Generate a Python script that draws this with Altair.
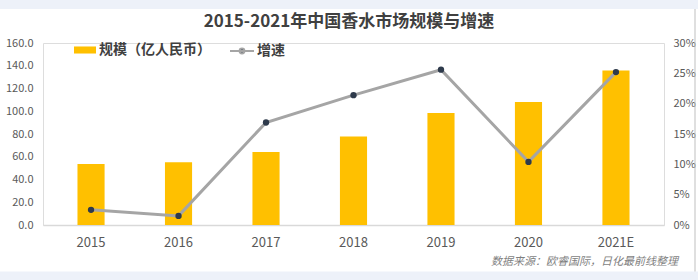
import altair as alt
import pandas as pd

years = ["2015", "2016", "2017", "2018", "2019", "2020", "2021E"]
market_size = [53.6, 55.1, 64.2, 77.8, 98.5, 108.1, 135.8]
growth = [0.025, 0.015, 0.169, 0.214, 0.256, 0.104, 0.252]
title_text = "2015-2021年中国香水市场规模与增速"
source_text = "数据来源：欧睿国际，日化最前线整理"
left_ticks = [0, 20, 40, 60, 80, 100, 120, 140, 160]
right_ticks = [0, 0.05, 0.10, 0.15, 0.20, 0.25, 0.30]

FONT = "Noto Sans CJK SC"
YELLOW = "#FFC000"
GRAY = "#A5A5A5"
DOT = "#2E3A4B"
BAND = "#EDF1F9"

df = pd.DataFrame({"year": years, "size": market_size, "growth": growth})
df["s1"] = "规模（亿人民币）"
df["s2"] = "增速"

x = alt.X("year:N", sort=years, title=None,
          scale=alt.Scale(paddingInner=0.69, paddingOuter=0.394),
          axis=alt.Axis(labelAngle=0, ticks=False, domainColor="#D9D9D9", domainWidth=1.5,
                        labelFont=FONT, labelFontSize=13, labelColor="#595959", labelPadding=11))

bars = alt.Chart(df).mark_bar(color=YELLOW).encode(
    x=x,
    y=alt.Y("size:Q", title=None, scale=alt.Scale(domain=[0, 160], nice=False),
            axis=alt.Axis(values=left_ticks, format=".1f", grid=False, domain=False, ticks=False,
                          labelFont=FONT, labelFontSize=11, labelColor="#595959", labelPadding=10)),
    color=alt.Color("s1:N", title=None, scale=alt.Scale(range=[YELLOW]),
                    legend=alt.Legend(orient="none", legendX=30, legendY=-5,
                                      symbolType="M-1,-0.32L1,-0.32L1,0.32L-1,0.32Z",
                                      symbolSize=484, labelFont=FONT, labelFontSize=14,
                                      labelFontWeight="bold", labelColor="#404040", labelOffset=2)),
)

line = alt.Chart(df).mark_line(strokeWidth=3).encode(
    x=x,
    y=alt.Y("growth:Q", title=None, scale=alt.Scale(domain=[0, 0.30], nice=False),
            axis=alt.Axis(orient="right", values=right_ticks, format=".0%", grid=False, domain=False,
                          ticks=False, labelFont=FONT, labelFontSize=11, labelColor="#595959",
                          labelPadding=9)),
    color=alt.Color("s2:N", title=None, scale=alt.Scale(range=[GRAY]),
                    legend=alt.Legend(orient="none", legendX=186, legendY=-5,
                                      symbolType="M-1,0L1,0M0.2,0A0.2,0.2,0,1,1,-0.2,0A0.2,0.2,0,1,1,0.2,0Z",
                                      symbolSize=576, symbolStrokeWidth=2, symbolFillColor=DOT,
                                      labelFont=FONT, labelFontSize=14, labelFontWeight="bold",
                                      labelColor="#404040", labelOffset=2)),
)

points = alt.Chart(df).mark_point(filled=True, color=DOT, size=40, opacity=1).encode(
    x=x,
    y=alt.Y("growth:Q", scale=alt.Scale(domain=[0, 0.30], nice=False), axis=None),
)

ttl = alt.Chart(pd.DataFrame({"t": [title_text]})).mark_text(
    font=FONT, fontSize=17, fontWeight="bold", color="#404040", align="center", baseline="middle"
).encode(text="t:N", x=alt.value(306), y=alt.value(-21))

src = alt.Chart(pd.DataFrame({"t": [source_text]})).mark_text(
    font=FONT, fontSize=11, fontStyle="italic", color="#7F7F7F", align="right", baseline="middle"
).encode(text="t:N", x=alt.value(635), y=alt.value(219))

top_band = alt.Chart(pd.DataFrame({"a": [0]})).mark_rect(color=BAND).encode(
    x=alt.value(-43), x2=alt.value(655), y=alt.value(-43), y2=alt.value(-34))
bottom_band = alt.Chart(pd.DataFrame({"a": [0]})).mark_rect(color=BAND).encode(
    x=alt.value(-43), x2=alt.value(655), y=alt.value(228.5), y2=alt.value(237))
right_edge = alt.Chart(pd.DataFrame({"a": [0]})).mark_rule(color="#BFBFBF", strokeWidth=1).encode(
    x=alt.value(652), y=alt.value(-34), y2=alt.value(228.5))

chart = alt.layer(top_band, bottom_band, right_edge, bars, line, points, ttl, src).resolve_scale(
    y="independent", color="independent"
).properties(
    width=621, height=182,
    padding={"left": 43, "top": 43, "right": 34, "bottom": 55},
    autosize=alt.AutoSizeParams(type="none"),
).configure_view(stroke=None).configure(background="white")

chart.save("out.html", embed_options={"renderer": "svg", "actions": False})
